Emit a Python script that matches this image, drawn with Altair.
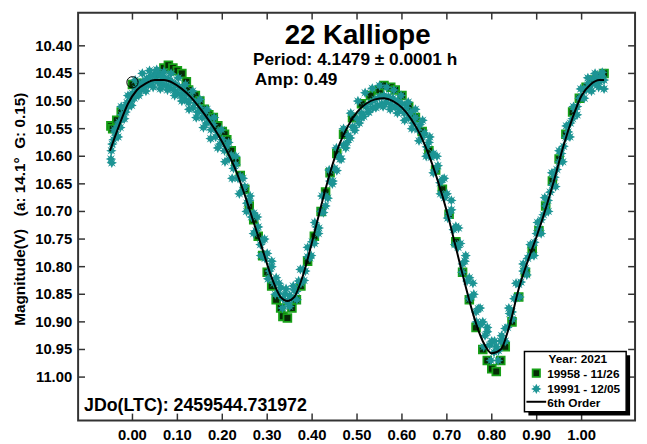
import altair as alt
import pandas as pd

# ---------------- data ----------------
teal_phase = [-0.048,-0.047,-0.045,-0.042,-0.039,-0.036,-0.033,-0.03,-0.027,-0.024,-0.021,-0.018,-0.015,-0.012,-0.009,-0.006,-0.003,0.0,0.004,0.008,0.012,0.016,0.02,0.024,0.028,0.032,0.036,0.04,0.044,0.048,0.052,0.056,0.06,0.064,0.068,0.072,0.076,0.08,0.084,0.088,0.092,0.096,0.1,0.104,0.108,0.112,0.116,0.12,0.125,0.13,0.135,0.14,0.145,0.15,0.155,0.16,0.165,0.17,0.175,0.18,0.185,0.19,0.195,0.2,0.205,0.21,0.215,0.22,0.225,0.23,0.235,0.24,0.245,0.25,0.255,0.26,0.265,0.27,0.275,0.28,0.285,0.29,0.295,0.3,0.305,0.31,0.315,0.32,0.325,0.33,0.335,0.34,0.345,0.35,0.355,0.36,0.365,0.37,0.375,0.38,0.385,0.39,0.395,0.4,0.405,0.41,0.415,0.42,0.425,0.43,0.435,0.44,0.445,0.45,0.455,0.46,0.465,0.47,0.475,0.48,0.485,0.49,0.495,0.5,0.505,0.51,0.515,0.52,0.525,0.53,0.535,0.54,0.545,0.55,0.555,0.56,0.565,0.57,0.575,0.58,0.585,0.59,0.595,0.6,0.605,0.61,0.615,0.62,0.625,0.63,0.635,0.64,0.645,0.65,0.655,0.66,0.665,0.67,0.675,0.68,0.685,0.69,0.695,0.7,0.705,0.71,0.715,0.72,0.725,0.73,0.735,0.74,0.745,0.75,0.755,0.76,0.765,0.77,0.775,0.78,0.785,0.79,0.795,0.8,0.805,0.81,0.815,0.82,0.825,0.83,0.835,0.84,0.845,0.85,0.855,0.86,0.865,0.87,0.875,0.88,0.885,0.89,0.895,0.9,0.905,0.91,0.915,0.92,0.925,0.93,0.935,0.94,0.945,0.95,0.955,0.96,0.965,0.97,0.975,0.98,0.985,0.99,0.995,1.0,1.005,1.01,1.015,1.02,1.025,1.03,1.035,1.04,1.045,1.05]
teal_mag = [10.605,10.59,10.578,10.57,10.556,10.562,10.545,10.538,10.548,10.525,10.532,10.512,10.52,10.503,10.51,10.492,10.5,10.486,10.495,10.478,10.486,10.47,10.48,10.465,10.474,10.46,10.47,10.455,10.466,10.452,10.462,10.45,10.468,10.455,10.47,10.458,10.472,10.46,10.476,10.465,10.48,10.47,10.485,10.474,10.49,10.48,10.497,10.487,10.503,10.495,10.512,10.503,10.52,10.512,10.53,10.522,10.54,10.532,10.552,10.543,10.565,10.556,10.578,10.57,10.59,10.582,10.605,10.598,10.622,10.615,10.64,10.636,10.662,10.655,10.685,10.68,10.71,10.703,10.735,10.728,10.76,10.752,10.785,10.776,10.808,10.8,10.83,10.82,10.848,10.838,10.858,10.85,10.865,10.852,10.858,10.842,10.845,10.826,10.83,10.805,10.808,10.782,10.784,10.755,10.758,10.728,10.73,10.7,10.702,10.672,10.676,10.645,10.65,10.622,10.626,10.6,10.605,10.58,10.585,10.562,10.567,10.547,10.553,10.532,10.54,10.522,10.528,10.51,10.52,10.503,10.513,10.497,10.508,10.492,10.505,10.49,10.503,10.492,10.506,10.495,10.51,10.5,10.515,10.505,10.522,10.512,10.53,10.52,10.54,10.53,10.552,10.543,10.566,10.558,10.583,10.575,10.602,10.595,10.624,10.617,10.648,10.642,10.675,10.668,10.703,10.697,10.733,10.727,10.765,10.758,10.795,10.79,10.826,10.82,10.855,10.85,10.882,10.876,10.905,10.9,10.925,10.918,10.942,10.935,10.955,10.945,10.952,10.935,10.935,10.912,10.91,10.885,10.882,10.858,10.855,10.832,10.828,10.808,10.803,10.785,10.78,10.762,10.756,10.74,10.732,10.715,10.706,10.69,10.68,10.665,10.652,10.638,10.624,10.61,10.595,10.582,10.566,10.556,10.54,10.532,10.515,10.51,10.495,10.492,10.478,10.48,10.468,10.472,10.46,10.468,10.456,10.465,10.455,10.462]

# teal stars at the upper / lower edges of the band
teal_edge_phase = [-0.046,-0.04,-0.032,-0.025,-0.018,-0.01,-0.002,0.006,0.014,0.022,0.03,0.038,0.046,0.054,0.062,0.07,0.078,0.086,0.094,0.102,0.11,0.118,0.126,0.134,0.142,0.15,0.158,0.166,0.174,0.182,0.19,0.198,0.206,0.214,0.222,0.23,0.238,0.246,0.254,0.262,0.27,0.278,0.286,0.294,0.302,0.31,0.318,0.326,0.334,0.342,0.35,0.358,0.366,0.374,0.382,0.39,0.398,0.406,0.414,0.422,0.43,0.438,0.446,0.454,0.462,0.47,0.478,0.486,0.494,0.502,0.51,0.518,0.526,0.534,0.542,0.55,0.558,0.566,0.574,0.582,0.59,0.598,0.606,0.614,0.622,0.63,0.638,0.646,0.654,0.662,0.67,0.678,0.686,0.694,0.702,0.71,0.718,0.726,0.734,0.742,0.75,0.758,0.766,0.774,0.782,0.79,0.798,0.806,0.814,0.822,0.83,0.838,0.846,0.854,0.862,0.87,0.878,0.886,0.894,0.902,0.91,0.918,0.926,0.934,0.942,0.95,0.958,0.966,0.974,0.982,0.99,0.998,1.006,1.014,1.022,1.03,1.038,1.046,1.05]
teal_edge_mag = [10.612,10.552,10.565,10.51,10.532,10.49,10.508,10.462,10.49,10.45,10.482,10.445,10.475,10.443,10.478,10.447,10.48,10.45,10.49,10.458,10.5,10.47,10.515,10.482,10.53,10.497,10.548,10.515,10.568,10.53,10.585,10.552,10.61,10.575,10.64,10.6,10.668,10.64,10.7,10.672,10.74,10.71,10.78,10.75,10.822,10.79,10.85,10.83,10.875,10.84,10.872,10.835,10.86,10.805,10.825,10.765,10.78,10.72,10.74,10.672,10.69,10.625,10.645,10.585,10.605,10.55,10.575,10.522,10.548,10.5,10.53,10.485,10.52,10.477,10.512,10.472,10.51,10.475,10.515,10.48,10.522,10.49,10.535,10.502,10.55,10.515,10.572,10.535,10.6,10.565,10.63,10.6,10.668,10.64,10.712,10.68,10.76,10.73,10.81,10.78,10.858,10.83,10.9,10.875,10.945,10.91,10.97,10.935,10.97,10.925,10.935,10.875,10.895,10.83,10.855,10.795,10.815,10.76,10.78,10.72,10.74,10.675,10.7,10.63,10.655,10.59,10.61,10.545,10.565,10.51,10.525,10.478,10.495,10.458,10.482,10.45,10.475,10.448,10.478]

green_phase = [-0.048,-0.044,-0.035,-0.025,0.0,0.02,0.06,0.07,0.08,0.09,0.1,0.11,0.12,0.125,0.14,0.15,0.16,0.17,0.18,0.19,0.2,0.205,0.21,0.22,0.23,0.24,0.25,0.26,0.27,0.28,0.29,0.3,0.31,0.32,0.33,0.335,0.345,0.355,0.365,0.375,0.39,0.405,0.42,0.43,0.44,0.455,0.47,0.49,0.51,0.53,0.55,0.56,0.575,0.585,0.6,0.615,0.63,0.645,0.66,0.675,0.69,0.705,0.72,0.735,0.75,0.765,0.78,0.79,0.8,0.81,0.82,0.83,0.845,0.86,0.875,0.89,0.905,0.92,0.935,0.95,0.965,0.98,0.995,1.01,1.025,1.04,1.05]
green_mag = [10.545,10.55,10.535,10.52,10.47,10.468,10.45,10.44,10.435,10.44,10.445,10.45,10.465,10.48,10.49,10.5,10.515,10.525,10.53,10.545,10.555,10.56,10.57,10.59,10.61,10.635,10.66,10.69,10.715,10.745,10.78,10.81,10.835,10.86,10.875,10.89,10.893,10.875,10.86,10.835,10.79,10.745,10.7,10.665,10.63,10.595,10.56,10.53,10.505,10.49,10.48,10.472,10.475,10.48,10.49,10.51,10.53,10.555,10.59,10.625,10.66,10.705,10.755,10.81,10.86,10.91,10.95,10.97,10.985,10.99,10.97,10.945,10.9,10.855,10.81,10.77,10.735,10.69,10.645,10.605,10.56,10.52,10.495,10.475,10.462,10.455,10.45]

fit_phase = [-0.05,-0.03,-0.01,0.01,0.03,0.05,0.07,0.09,0.11,0.13,0.15,0.17,0.19,0.21,0.23,0.25,0.27,0.29,0.31,0.33,0.345,0.36,0.38,0.40,0.42,0.44,0.46,0.48,0.50,0.52,0.54,0.56,0.58,0.60,0.62,0.64,0.66,0.68,0.70,0.72,0.74,0.76,0.78,0.80,0.82,0.84,0.86,0.88,0.90,0.92,0.94,0.96,0.98,1.00,1.02,1.04,1.05]
fit_mag = [10.59,10.545,10.505,10.48,10.468,10.462,10.462,10.467,10.478,10.493,10.513,10.535,10.56,10.59,10.625,10.67,10.72,10.77,10.82,10.855,10.862,10.855,10.815,10.755,10.69,10.63,10.58,10.545,10.52,10.505,10.497,10.495,10.5,10.512,10.532,10.56,10.598,10.645,10.7,10.765,10.83,10.89,10.935,10.957,10.95,10.905,10.84,10.79,10.745,10.695,10.64,10.58,10.53,10.49,10.47,10.462,10.462]

zero_phase = [0.0]
zero_mag = [10.466]

x_ticks = [0.0, 0.1, 0.2, 0.3, 0.4, 0.5, 0.6, 0.7, 0.8, 0.9, 1.0]
y_ticks = [10.40, 10.45, 10.50, 10.55, 10.60, 10.65, 10.70, 10.75, 10.80, 10.85, 10.90, 10.95, 11.00]

title_text = "22 Kalliope"
period_text = "Period: 4.1479 \u00b1 0.0001 h"
amp_text = "Amp: 0.49"
jd_text = "JDo(LTC): 2459544.731972"
y_title = "Magnitude(V)\u00a0\u00a0\u00a0(a: 14.1\u00b0\u00a0\u00a0G: 0.15)"
legend_head = "Year: 2021"
legend_labels = ["19958 - 11/26", "19991 - 12/05", "6th Order"]

# ---------------- chart ----------------
W, H = 564, 413
FONT = "Liberation Sans"
TEAL = "#1c9494"
SQ_FILL, SQ_STROKE = "#072b07", "#17a017"
xs = alt.Scale(domain=[-0.121, 1.119], nice=False, zero=False)
ys = alt.Scale(domain=[10.340, 11.0787], reverse=True, nice=False, zero=False)

STAR = ("M0,-1L0.26,-0.45L0.75,-0.75L0.45,-0.26L1,0L0.45,0.26L0.75,0.75L0.26,0.45"
        "L0,1L-0.26,0.45L-0.75,0.75L-0.45,0.26L-1,0L-0.45,-0.26L-0.75,-0.75L-0.26,-0.45Z")

teal_df = pd.DataFrame({"phase": teal_phase + teal_edge_phase, "mag": teal_mag + teal_edge_mag})
green_df = pd.DataFrame({"phase": green_phase, "mag": green_mag})
fit_df = pd.DataFrame({"phase": fit_phase, "mag": fit_mag})
zero_df = pd.DataFrame({"phase": zero_phase, "mag": zero_mag})
xt_df = pd.DataFrame({"v": x_ticks})
yt_df = pd.DataFrame({"v": y_ticks})

X = alt.X("phase:Q", scale=xs, axis=None)
Y = alt.Y("mag:Q", scale=ys, axis=None)

green = alt.Chart(green_df).mark_point(
    shape="square", filled=True, size=62, fill=SQ_FILL, stroke=SQ_STROKE,
    strokeWidth=1.8, opacity=1).encode(x=X, y=Y)

teal = alt.Chart(teal_df).mark_point(
    shape=STAR, filled=True, size=110, fill=TEAL, opacity=1, strokeWidth=0).encode(x=X, y=Y)

fit = alt.Chart(fit_df).mark_line(color="black", strokeWidth=2, interpolate="monotone").encode(x=X, y=Y)

zero = alt.Chart(zero_df).mark_point(shape="circle", filled=False, size=130, stroke="black",
                                     strokeWidth=1, opacity=1).encode(x=X, y=Y)

XT = alt.X("v:Q", scale=xs, axis=None)
YT = alt.Y("v:Q", scale=ys, axis=None)
TK = 7
tick_style = dict(color="#333", strokeWidth=1.5)
bt = alt.Chart(xt_df).mark_rule(**tick_style).encode(x=XT, y=alt.value(H), y2=alt.value(H - TK))
tt = alt.Chart(xt_df).mark_rule(**tick_style).encode(x=XT, y=alt.value(0), y2=alt.value(TK))
lt = alt.Chart(yt_df).mark_rule(**tick_style).encode(y=YT, x=alt.value(0), x2=alt.value(TK))
rt = alt.Chart(yt_df).mark_rule(**tick_style).encode(y=YT, x=alt.value(W), x2=alt.value(W - TK))

xl = alt.Chart(xt_df).mark_text(font=FONT, fontWeight="bold", fontSize=15, color="black",
                                align="center", baseline="top").encode(
    x=XT, y=alt.value(H + 8), text=alt.Text("v:Q", format=".2f"))
yl = alt.Chart(yt_df).mark_text(font=FONT, fontWeight="bold", fontSize=15, color="black",
                                align="right", baseline="middle").encode(
    y=YT, x=alt.value(-6), text=alt.Text("v:Q", format=".2f"))


def txt(s, x, y, size, align="left", baseline="alphabetic", angle=0):
    return alt.Chart(pd.DataFrame({"t": [s]})).mark_text(
        font=FONT, fontWeight="bold", fontSize=size, color="black", align=align,
        baseline=baseline, angle=angle).encode(text="t:N", x=alt.value(x), y=alt.value(y))


ytitle = txt(y_title, -59, 199, 15.5, "center", "middle", 270)
title = txt(title_text, 283, 32, 28, "center")
period = txt(period_text, 177, 53, 17.5)
amp = txt(amp_text, 179, 73, 17.5)
jd = txt(jd_text, 6, 403, 18)

# legend box
LX0, LY0, LX1, LY1 = 452, 343, 555, 404
one = pd.DataFrame({"a": [0]})
shadow = alt.Chart(one).mark_rect(color="black").encode(
    x=alt.value(LX0 + 4), x2=alt.value(LX1 + 4), y=alt.value(LY0 + 4), y2=alt.value(LY1 + 4))
box = alt.Chart(one).mark_rect(fill="white", stroke="black", strokeWidth=1.5).encode(
    x=alt.value(LX0), x2=alt.value(LX1), y=alt.value(LY0), y2=alt.value(LY1))
lg_head = txt(legend_head, 506, 355, 12, "center")
lg_sq = alt.Chart(one).mark_point(
    shape="square", filled=True, size=55, fill=SQ_FILL, stroke=SQ_STROKE, strokeWidth=1.8, opacity=1
).encode(x=alt.value(464), y=alt.value(365))
lg_star = alt.Chart(one).mark_point(
    shape=STAR, filled=True, size=110, fill=TEAL, opacity=1).encode(x=alt.value(464), y=alt.value(381))
lg_line = alt.Chart(one).mark_rule(color="black", strokeWidth=2).encode(
    x=alt.value(454), x2=alt.value(474), y=alt.value(394))
lg_t1 = txt(legend_labels[0], 475, 369.5, 12)
lg_t2 = txt(legend_labels[1], 475, 385.5, 12)
lg_t3 = txt(legend_labels[2], 475, 399, 12)

chart = alt.layer(
    green, teal, fit, zero, bt, tt, lt, rt, xl, yl, ytitle, title, period, amp, jd,
    shadow, box, lg_head, lg_sq, lg_star, lg_line, lg_t1, lg_t2, lg_t3
).properties(
    width=W, height=H,
    autosize=alt.AutoSizeParams(type="none"),
    padding={"left": 71, "top": 2, "right": 4, "bottom": 21},
    background="white",
).configure_view(stroke="#333", strokeWidth=2)

chart.save("out.html", embed_options={"renderer": "svg", "actions": False})
